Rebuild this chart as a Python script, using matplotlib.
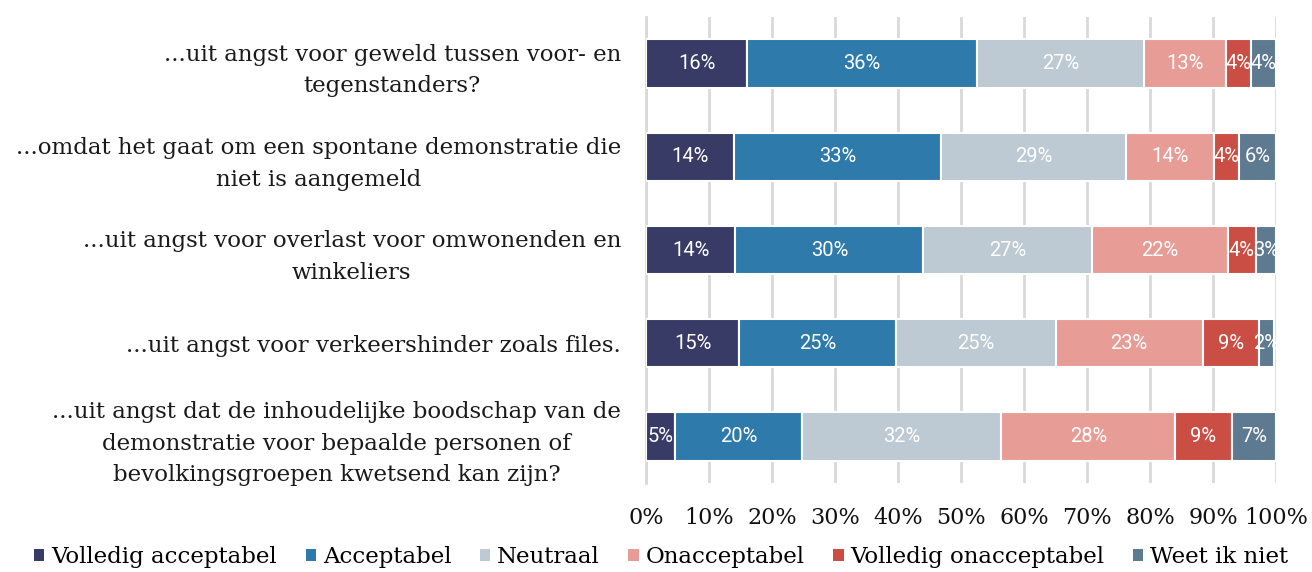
import matplotlib
matplotlib.use("Agg")
import matplotlib.pyplot as plt
import numpy as np

categories = [
    "...uit angst voor geweld tussen voor- en\ntegenstanders?",
    "...omdat het gaat om een spontane demonstratie die\nniet is aangemeld",
    "...uit angst voor overlast voor omwonenden en\nwinkeliers",
    "...uit angst voor verkeershinder zoals files.",
    "...uit angst dat de inhoudelijke boodschap van de\ndemonstratie voor bepaalde personen of\nbevolkingsgroepen kwetsend kan zijn?",
]
series_names = ["Volledig acceptabel", "Acceptabel", "Neutraal",
                "Onacceptabel", "Volledig onacceptabel", "Weet ik niet"]
volledig_acceptabel = [16.1, 14.0, 14.2, 14.8, 4.6]
acceptabel = [36.4, 32.8, 29.8, 24.9, 20.2]
neutraal = [26.6, 29.4, 26.8, 25.3, 31.6]
onacceptabel = [12.9, 13.9, 21.6, 23.4, 27.6]
volledig_onacceptabel = [4.1, 4.0, 4.4, 8.9, 9.0]
weet_ik_niet = [3.9, 5.9, 3.2, 2.4, 7.0]
x_ticks = [0, 10, 20, 30, 40, 50, 60, 70, 80, 90, 100]
x_tick_labels = ["0%", "10%", "20%", "30%", "40%", "50%", "60%", "70%", "80%", "90%", "100%"]

colors = ["#373B66", "#2E7AAB", "#BDC9D3", "#E89C96", "#CB4E45", "#5D7A91"]

data = np.array([volledig_acceptabel, acceptabel, neutraal, onacceptabel,
                 volledig_onacceptabel, weet_ik_niet])

fig = plt.figure(figsize=(13.12, 5.72), dpi=100)
ax = fig.add_axes([646/1312, 1-483/572, (1276-646)/1312, (483-17)/572])

y = np.arange(len(categories))
left = np.zeros(len(categories))
for i, name in enumerate(series_names):
    vals = data[i]
    ax.barh(y, vals, left=left, height=0.52, color=colors[i], edgecolor="white",
            linewidth=1.5, label=name, zorder=3)
    for j, v in enumerate(vals):
        ax.text(left[j] + v/2, y[j], f"{int(round(v))}%", ha="center", va="center",
                color="white", fontsize=14.5, family="Roboto", zorder=4)
    left += vals

ax.set_xlim(0, 100)
ax.set_ylim(len(categories)-0.5, -0.5)
ax.set_xticks(x_ticks)
ax.set_xticklabels(x_tick_labels, family="DejaVu Serif", fontsize=16, color="#111111")
ax.set_yticks(y)
ax.set_yticklabels(categories, family="DejaVu Serif", fontsize=16.5, color="#1a1a1a",
                   multialignment="center", linespacing=1.55)
ax.tick_params(axis="y", length=0, pad=18)
ax.tick_params(axis="x", length=0, pad=17)
ax.grid(axis="x", color="#D9D9D9", linewidth=2, zorder=0)
for s in ["top", "right", "bottom"]:
    ax.spines[s].set_visible(False)
ax.spines["left"].set_color("#D9D9D9")
ax.spines["left"].set_linewidth(2)

handles, labels = ax.get_legend_handles_labels()
leg = fig.legend(handles, labels, loc="center", bbox_to_anchor=(0.504, 1-557/572), ncol=6,
                 frameon=False, handlelength=0.45, handleheight=0.45, handletextpad=0.3,
                 columnspacing=1.25, prop={"family": "DejaVu Serif", "size": 16.5})
for h in leg.legend_handles:
    h.set_edgecolor("none")

fig.savefig("out.png", dpi=100)
